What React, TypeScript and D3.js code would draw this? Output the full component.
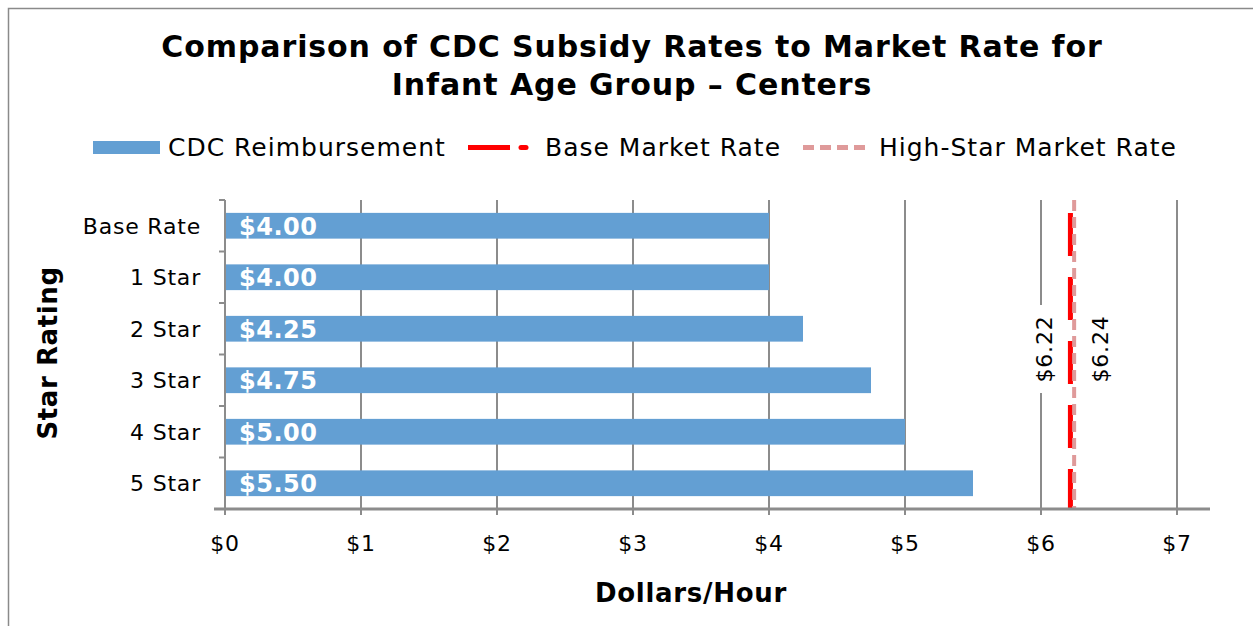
import React from "react";
import * as d3 from "d3";

const categories = ["Base Rate", "1 Star", "2 Star", "3 Star", "4 Star", "5 Star"];
const reimbursement = [4.0, 4.0, 4.25, 4.75, 5.0, 5.5];
const baseMarketRate = 6.22;
const highStarMarketRate = 6.24;
const xTicks = [0, 1, 2, 3, 4, 5, 6, 7];
const titleLines = ["Comparison of CDC Subsidy Rates to Market Rate for", "Infant Age Group \u2013 Centers"];
const legendLabels = ["CDC Reimbursement", "Base Market Rate", "High-Star Market Rate"];

const W = 1253;
const H = 626;
const FONT = "'DejaVu Sans', Verdana, sans-serif";
const BLUE = "#639fd3";
const RED = "#ff0000";
const PINK = "#df9a9a";
const GRID = "#8c8c8c";

export default function App() {
  const plotLeft = 225;
  const plotTop = 200;
  const plotBottom = 509;
  const x = d3.scaleLinear().domain([0, 7]).range([plotLeft, 1177]);
  const y = d3.scaleBand().domain(categories).range([plotTop, plotBottom]).paddingInner(0.5).paddingOuter(0.25);
  const yb = d3.scaleBand().domain(categories).range([plotTop, plotBottom]);
  const fmt = (v: number) => "$" + v.toFixed(2);

  const boundaries = categories.map((c) => yb(c) as number).concat([plotBottom]);

  return (
    <svg width={W} height={H} style={{ display: "block", position: "absolute", left: 0, top: 0 }}>
      <rect x={0} y={0} width={W} height={H} fill="#fff" />
      <rect x={8.5} y={8.5} width={W + 20} height={H + 20} fill="none" stroke="#8a8a8a" strokeWidth={1.5} />
      {/* title */}
      {titleLines.map((t, i) => (
        <text key={i} x={632} y={57 + i * 38} textAnchor="middle" fontFamily={FONT} fontWeight="bold" fontSize={30} letterSpacing={0.9} fill="#000">
          {t}
        </text>
      ))}
      {/* legend */}
      <g fontFamily={FONT} fontSize={25} letterSpacing={1} fill="#000">
        <rect x={93} y={141} width={67} height={13} fill={BLUE} />
        <text x={168} y={156}>{legendLabels[0]}</text>
        <line x1={468} x2={510} y1={147.5} y2={147.5} stroke={RED} strokeWidth={5} />
        <line x1={521} x2={526} y1={147.5} y2={147.5} stroke={RED} strokeWidth={5} strokeLinecap="round" />
        <text x={545} y={156}>{legendLabels[1]}</text>
        <line x1={803} x2={868} y1={147.5} y2={147.5} stroke={PINK} strokeWidth={5} strokeDasharray="11 6" strokeLinecap="butt" />
        <text x={879} y={156}>{legendLabels[2]}</text>
      </g>
      {/* gridlines */}
      {xTicks.filter((t) => t > 0).map((t) => (
        <line key={t} x1={x(t)} x2={x(t)} y1={plotTop} y2={plotBottom} stroke={GRID} strokeWidth={2} />
      ))}
      {/* bars */}
      {categories.map((c, i) => (
        <g key={c}>
          <rect x={x(0)} y={y(c)} width={x(reimbursement[i]) - x(0)} height={y.bandwidth()} fill={BLUE} />
          <text x={x(0) + 14} y={(y(c) as number) + y.bandwidth() / 2 + 9} fontFamily={FONT} fontWeight="bold" fontSize={24} letterSpacing={0.5} fill="#fff">
            {fmt(reimbursement[i])}
          </text>
        </g>
      ))}
      {/* white background for $6.22 label */}
      <rect x={1030} y={305} width={22} height={88} fill="#fff" />
      {/* market rate lines */}
      <line x1={x(baseMarketRate) - 0.5} x2={x(baseMarketRate) - 0.5} y1={213} y2={plotBottom + 1} stroke={RED} strokeWidth={5} strokeDasharray="43 21" />
      <line x1={x(highStarMarketRate) + 0.5} x2={x(highStarMarketRate) + 0.5} y1={200} y2={plotBottom + 1} stroke={PINK} strokeWidth={4} strokeDasharray="11 6" />
      {/* rotated value labels */}
      <text transform={`translate(${1052},${349}) rotate(-90)`} textAnchor="middle" fontFamily={FONT} fontSize={22} letterSpacing={0.8} fill="#000">
        {"$" + baseMarketRate.toFixed(2)}
      </text>
      <text transform={`translate(${1108},${349}) rotate(-90)`} textAnchor="middle" fontFamily={FONT} fontSize={22} letterSpacing={0.8} fill="#000">
        {"$" + highStarMarketRate.toFixed(2)}
      </text>
      {/* y axis */}
      <line x1={plotLeft} x2={plotLeft} y1={plotTop} y2={plotBottom + 6} stroke={GRID} strokeWidth={2} />
      {boundaries.map((b, i) => (
        <line key={i} x1={plotLeft - 6} x2={plotLeft} y1={b} y2={b} stroke={GRID} strokeWidth={2} />
      ))}
      {categories.map((c) => (
        <text key={c} x={201} y={(yb(c) as number) + yb.bandwidth() / 2 + 8} textAnchor="end" fontFamily={FONT} fontSize={22} letterSpacing={0.8} fill="#000">
          {c}
        </text>
      ))}
      {/* x axis */}
      <line x1={214} x2={1210} y1={plotBottom} y2={plotBottom} stroke={GRID} strokeWidth={3} />
      {xTicks.map((t) => (
        <g key={t}>
          <line x1={x(t)} x2={x(t)} y1={plotBottom - 6} y2={plotBottom + 6} stroke={GRID} strokeWidth={2} />
          <text x={x(t)} y={551} textAnchor="middle" fontFamily={FONT} fontSize={22} letterSpacing={0.8} fill="#000">
            {"$" + t}
          </text>
        </g>
      ))}
      {/* axis titles */}
      <text transform={`translate(57,353) rotate(-90)`} textAnchor="middle" fontFamily={FONT} fontWeight="bold" fontSize={26} letterSpacing={0.6} fill="#000">
        Star Rating
      </text>
      <text x={691} y={602} textAnchor="middle" fontFamily={FONT} fontWeight="bold" fontSize={26} letterSpacing={0.7} fill="#000">
        Dollars/Hour
      </text>
    </svg>
  );
}
